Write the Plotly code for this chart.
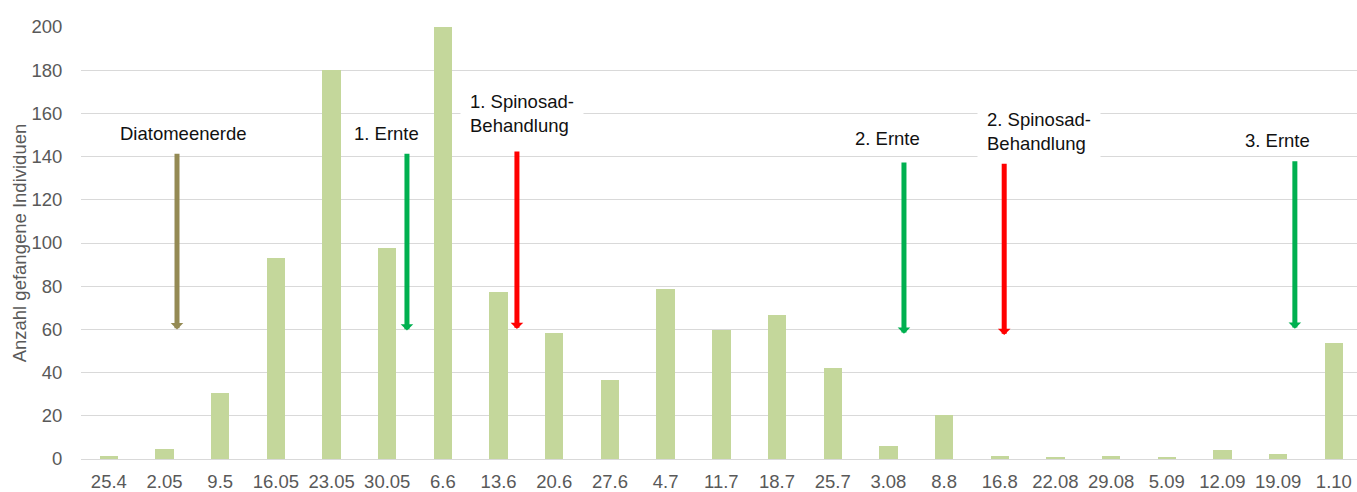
import plotly.graph_objects as go

dates = ["25.4", "2.05", "9.5", "16.05", "23.05", "30.05", "6.6", "13.6", "20.6", "27.6",
         "4.7", "11.7", "18.7", "25.7", "3.08", "8.8", "16.8", "22.08", "29.08", "5.09",
         "12.09", "19.09", "1.10"]
counts = [1.5, 4.5, 30.5, 93, 180, 97.5, 200, 77.5, 58.5, 36.8,
          78.9, 59.5, 66.8, 42, 6.2, 20.4, 1.2, 0.8, 1.2, 0.5,
          4, 2.3, 53.5]
y_ticks = [0, 20, 40, 60, 80, 100, 120, 140, 160, 180, 200]

# events: label, arrow position (category index), tail value, head value, colour
event_labels = ["Diatomeenerde", "1. Ernte", "1. Spinosad-<br>Behandlung",
                "2. Ernte", "2. Spinosad-<br>Behandlung", "3. Ernte"]
event_pos = [1.224, 5.354, 7.329, 14.28, 16.08, 21.30]
event_tail = [142, 142, 143, 138, 137.5, 138.5]
event_head = [60, 59.5, 60.2, 58, 57.4, 60.3]
event_colors = ["#948A54", "#00B050", "#FF0000", "#00B050", "#FF0000", "#00B050"]
label_x = [1.337, 4.99, 6.311, 13.986, 15.585, 20.99]
label_y = [150.9, 150.6, 159.8, 148.5, 151.5, 147.4]
label_anchor = ["center", "center", "left", "center", "left", "center"]

FONT = "Liberation Sans, Arial, sans-serif"

x_idx = list(range(len(dates)))

fig = go.Figure()
fig.add_trace(go.Bar(
    x=x_idx, y=counts, width=0.33,
    marker=dict(color="#C4D79B", line=dict(width=0)),
    hoverinfo="skip",
))

annotations = []
for i in range(len(event_labels)):
    annotations.append(dict(
        x=event_pos[i], y=event_head[i], ax=event_pos[i], ay=event_tail[i],
        xref="x", yref="y", axref="x", ayref="y",
        showarrow=True, arrowhead=1, arrowsize=0.42, arrowwidth=5,
        arrowcolor=event_colors[i], text="", standoff=0, startstandoff=0,
    ))
    boxed = "<br>" in event_labels[i]
    annotations.append(dict(
        x=label_x[i], y=label_y[i], xref="x", yref="y",
        text=event_labels[i], showarrow=False,
        xanchor=label_anchor[i], yanchor="middle", align="left",
        font=dict(family=FONT, size=18.5, color="#111111"),
        bgcolor="white" if boxed else "rgba(0,0,0,0)",
        borderpad=9 if boxed else 0,
    ))

annotations.append(dict(
    x=-0.0483, y=0.5, xref="paper", yref="paper",
    text="Anzahl gefangene Individuen", showarrow=False, textangle=-90,
    xanchor="center", yanchor="middle",
    font=dict(family=FONT, size=18.5, color="#595959"),
))

fig.update_layout(
    width=1357, height=492,
    margin=dict(l=80.6, r=0, t=27.3, b=32.7),
    paper_bgcolor="white", plot_bgcolor="white",
    showlegend=False,
    bargap=0,
    annotations=annotations,
    xaxis=dict(
        tickmode="array", tickvals=x_idx, ticktext=dates,
        range=[-0.5, 22.416], showgrid=False, zeroline=False, showline=False,
        ticks="outside", ticklen=6, tickcolor="rgba(0,0,0,0)",
        tickfont=dict(family=FONT, size=18.5, color="#595959"),
        fixedrange=True,
    ),
    yaxis=dict(
        range=[0, 200], tickmode="array", tickvals=y_ticks,
        showgrid=True, gridcolor="#D9D9D9", gridwidth=1,
        zeroline=True, zerolinecolor="#D9D9D9", zerolinewidth=1,
        showline=False,
        ticks="outside", ticklen=14, tickcolor="rgba(0,0,0,0)",
        tickfont=dict(family=FONT, size=18.5, color="#595959"),
        fixedrange=True,
    ),
)

fig.write_html("out.html")
